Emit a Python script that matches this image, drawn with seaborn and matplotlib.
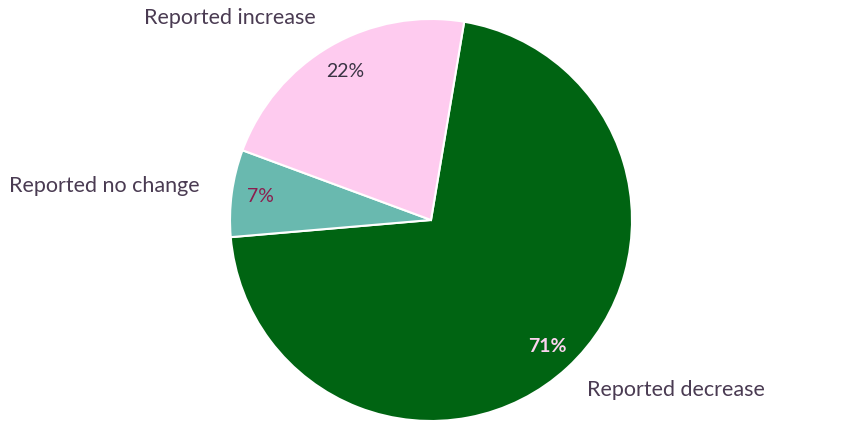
import matplotlib
matplotlib.use("Agg")
import matplotlib.pyplot as plt
import seaborn as sns

categories = ["Reported decrease", "Reported no change", "Reported increase"]
values = [71, 7, 22]
colors = ["#006412", "#69b9af", "#fecbef"]
pct_colors = ["#fcd3ef", "#8c1d4e", "#3a3444"]
pct_weights = ["bold", "normal", "normal"]

sns.set_theme(style="white")
plt.rcParams["font.family"] = ["Lato", "DejaVu Sans"]

W, H = 860, 428
fig = plt.figure(figsize=(W / 100, H / 100), dpi=100)
cx, cy, r = 431, 220, 201
ax = fig.add_axes([(cx - r) / W, (H - cy - r) / H, 2 * r / W, 2 * r / H])

wedges, texts, autotexts = ax.pie(
    values,
    colors=colors,
    startangle=80.5,
    counterclock=False,
    autopct="%d%%",
    pctdistance=0.855,
    wedgeprops=dict(edgecolor="white", linewidth=1.5),
)
for t, c, w in zip(autotexts, pct_colors, pct_weights):
    t.set_color(c)
    t.set_fontweight(w)
    t.set_fontsize(14)

ax.set_xlim(-1, 1)
ax.set_ylim(-1, 1)
ax.set_aspect("equal")
ax.axis("off")

label_color = "#4a3b52"
# label positions in pixels (text centres)
label_pos = {
    "Reported decrease": (676, 390),
    "Reported no change": (104, 186),
    "Reported increase": (230, 18),
}
for name in categories:
    px, py = label_pos[name]
    ax.text((px - cx) / r, (cy - py) / r, name, ha="center", va="center",
            fontsize=15.5, color=label_color, clip_on=False)

fig.savefig("out.png", dpi=100, facecolor="white")
